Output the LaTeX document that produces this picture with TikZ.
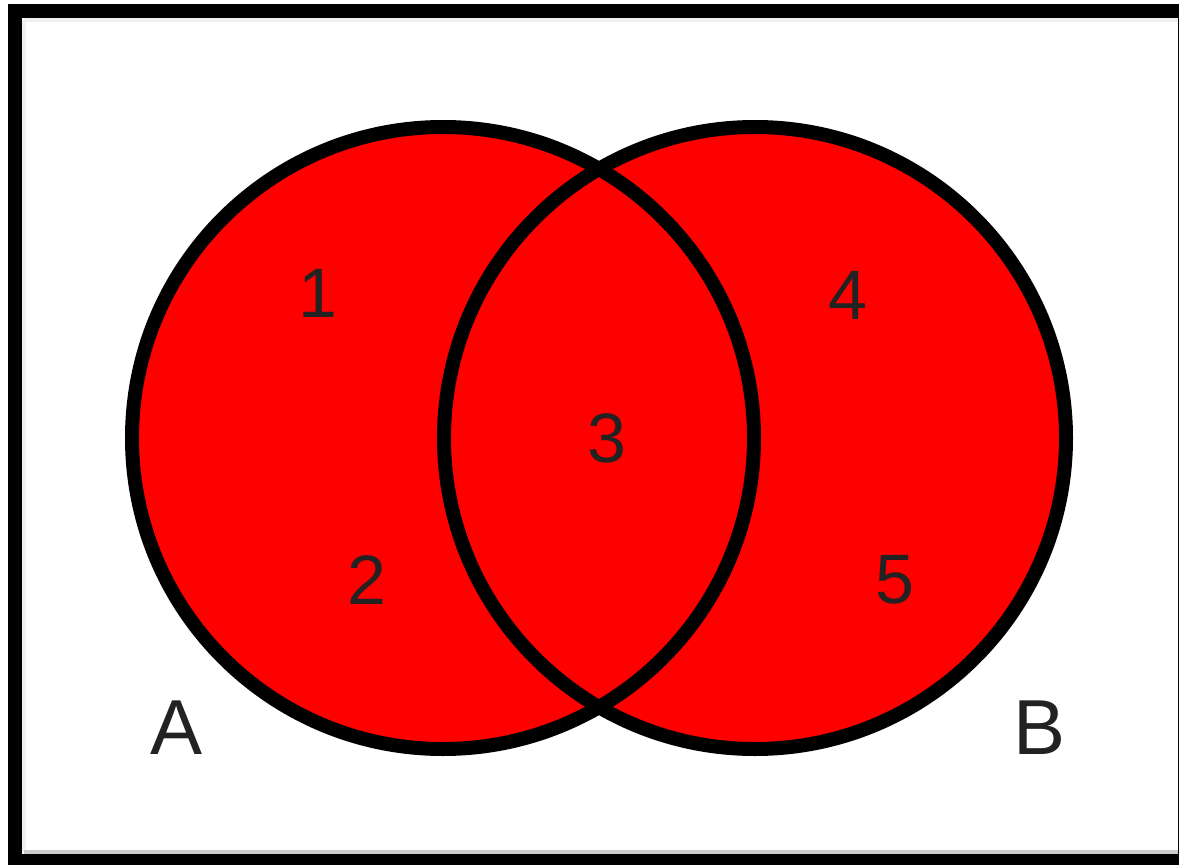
\documentclass[tikz,border=0pt]{standalone}
\usepackage{fontspec}
\setmainfont{Liberation Sans}
\usetikzlibrary{positioning}
\definecolor{vennred}{RGB}{255,0,0}
\definecolor{labelgray}{RGB}{34,34,34}
\tikzset{
  setfill/.style={fill=vennred},
  setline/.style={draw=black, line width=14pt},
  region/.style={text=labelgray, font=\fontsize{70}{84}\selectfont, inner sep=0pt},
  setname/.style={text=labelgray, font=\fontsize{78}{94}\selectfont, inner sep=0pt}
}
\begin{document}
\begin{tikzpicture}[x=1pt, y=-1pt]
  \useasboundingbox (0,0) rectangle (1179,865);
  % frame
  \fill[white] (0,0) rectangle (1179,865);
  \draw[gray!12, line width=4pt] (24,20) -- (1179,20);
  \draw[gray!12, line width=4pt] (24,20) -- (24,852);
  \draw[gray!40, line width=4pt] (24,852) -- (1179,852);
  \draw[black, line width=14pt] (14.5,11) rectangle (1185,861);
  % sets
  \coordinate (cA) at (443,438);
  \coordinate (cB) at (755,438);
  \fill[setfill] (cA) circle (311);
  \fill[setfill] (cB) circle (311);
  \draw[setline] (cA) circle (311);
  \draw[setline] (cB) circle (311);
  % region labels
  \node[region] (r1) at (318,293) {1};
  \node[region] (r2) at (367,580) {2};
  \node[region] (r3) at (607,438) {3};
  \node[region] (r4) at (848,295) {4};
  \node[region] (r5) at (895,580) {5};
  % set names
  \node[setname] (nA) at (177,728) {A};
  \node[setname] (nB) at (1040,728) {B};
\end{tikzpicture}
\end{document}
